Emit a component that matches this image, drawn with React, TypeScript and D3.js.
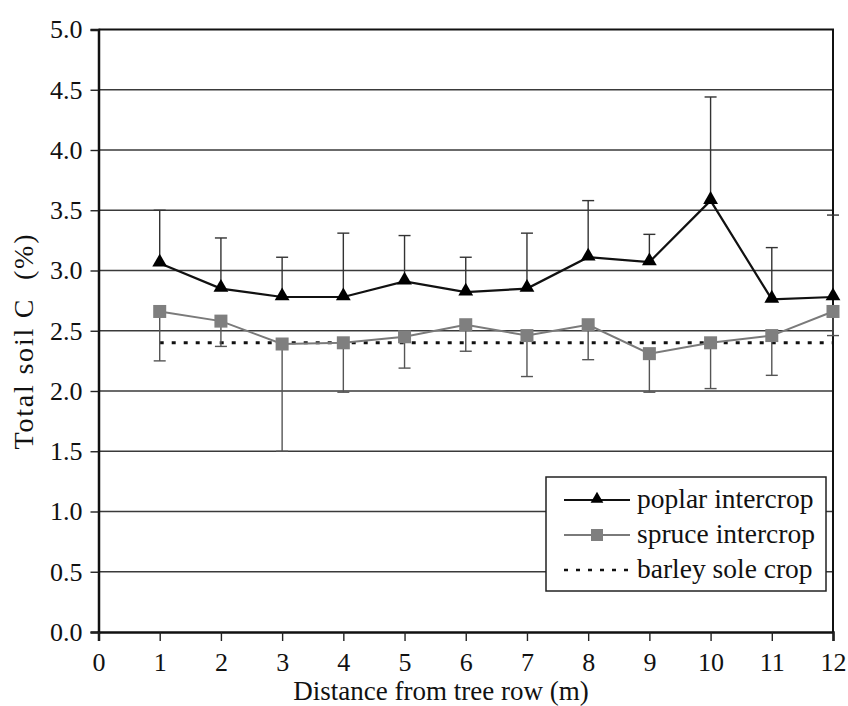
import React, { useEffect, useRef } from 'react';
import * as d3 from 'd3';

// Distance from tree row (m)
const distances = [1, 2, 3, 4, 5, 6, 7, 8, 9, 10, 11, 12];

// poplar intercrop: mean and upper error bar end
const poplarMean = [3.06, 2.85, 2.78, 2.78, 2.91, 2.82, 2.85, 3.11, 3.07, 3.58, 2.76, 2.78];
const poplarUpper = [3.5, 3.27, 3.11, 3.31, 3.29, 3.11, 3.31, 3.58, 3.3, 4.44, 3.19, 3.46];

// spruce intercrop: mean and lower error bar end
const spruceMean = [2.66, 2.58, 2.39, 2.4, 2.45, 2.55, 2.46, 2.55, 2.31, 2.4, 2.46, 2.66];
const spruceLower = [2.25, 2.37, 1.5, 1.99, 2.19, 2.33, 2.12, 2.26, 1.99, 2.02, 2.13, 2.46];

// barley sole crop (constant reference)
const barleyValue = 2.4;

const yTicks = [0, 0.5, 1, 1.5, 2, 2.5, 3, 3.5, 4, 4.5, 5];
const xTicks = [0, 1, 2, 3, 4, 5, 6, 7, 8, 9, 10, 11, 12];

const legendItems = ['poplar intercrop', 'spruce intercrop', 'barley sole crop'];

const App = () => {
  const svgRef = useRef(null);

  useEffect(() => {
    const width = 848;
    const height = 706;
    const margin = { top: 29.5, right: 15, bottom: 74, left: 98.5 };
    const font = '"Liberation Serif", "Times New Roman", serif';

    const svg = d3.select(svgRef.current);
    svg.selectAll('*').remove();
    svg.attr('viewBox', [0, 0, width, height]);

    svg.append('rect').attr('width', width).attr('height', height).attr('fill', 'white');

    const x = d3.scaleLinear().domain([0, 12]).range([margin.left, width - margin.right]);
    const y = d3.scaleLinear().domain([0, 5]).range([height - margin.bottom, margin.top]);

    // horizontal grid
    svg.append('g')
      .selectAll('line')
      .data(yTicks.filter(d => d > 0 && d < 5))
      .join('line')
      .attr('x1', margin.left)
      .attr('x2', width - margin.right)
      .attr('y1', d => y(d))
      .attr('y2', d => y(d))
      .attr('stroke', '#3a3a3a')
      .attr('stroke-width', 1.4);

    // frame (top + right)
    svg.append('path')
      .attr('d', `M${margin.left},${y(5)}H${x(12)}V${y(0)}`)
      .attr('fill', 'none')
      .attr('stroke', '#111')
      .attr('stroke-width', 2);

    // y axis
    const yAxis = svg.append('g')
      .attr('transform', `translate(${margin.left},0)`)
      .call(d3.axisLeft(y).tickValues(yTicks).tickFormat(d3.format('.1f')).tickSize(8).tickPadding(8));
    yAxis.select('.domain').attr('stroke', '#111').attr('stroke-width', 2.5);
    yAxis.selectAll('.tick line').attr('stroke', '#222').attr('stroke-width', 1.4);
    yAxis.selectAll('.tick text')
      .attr('font-family', font)
      .attr('font-size', 26)
      .attr('fill', '#111');

    // x axis
    const xAxis = svg.append('g')
      .attr('transform', `translate(0,${y(0)})`)
      .call(d3.axisBottom(x).tickValues(xTicks).tickFormat(d3.format('d')).tickSize(9).tickPadding(12));
    xAxis.select('.domain').attr('stroke', '#111').attr('stroke-width', 2.5);
    xAxis.selectAll('.tick line').attr('stroke', '#222').attr('stroke-width', 1.4);
    xAxis.selectAll('.tick text')
      .attr('font-family', font)
      .attr('font-size', 26)
      .attr('fill', '#111');

    // axis titles
    svg.append('text')
      .attr('x', 441)
      .attr('y', 700)
      .attr('text-anchor', 'middle')
      .attr('font-family', font)
      .attr('font-size', 27)
      .attr('fill', '#111')
      .text('Distance from tree row (m)');

    svg.append('text')
      .attr('transform', 'rotate(-90)')
      .attr('x', -342)
      .attr('y', 33)
      .attr('text-anchor', 'middle')
      .attr('font-family', font)
      .attr('font-size', 28)
      .attr('fill', '#111')
      .attr('textLength', 215)
      .attr('lengthAdjust', 'spacing')
      .attr('xml:space', 'preserve')
      .text('Total soil C  (%)');

    const poplar = distances.map((d, i) => ({ d, v: poplarMean[i], e: poplarUpper[i] }));
    const spruce = distances.map((d, i) => ({ d, v: spruceMean[i], e: spruceLower[i] }));

    // barley dotted line
    svg.append('line')
      .attr('x1', x(distances[0]))
      .attr('x2', x(distances[distances.length - 1]))
      .attr('y1', y(barleyValue))
      .attr('y2', y(barleyValue))
      .attr('stroke', '#111')
      .attr('stroke-width', 3)
      .attr('stroke-dasharray', '4 8');

    const drawErrors = (data, color) => {
      const g = svg.append('g').attr('stroke', color).attr('stroke-width', 1.4);
      g.selectAll('line.bar')
        .data(data)
        .join('line')
        .attr('class', 'bar')
        .attr('x1', d => x(d.d))
        .attr('x2', d => x(d.d))
        .attr('y1', d => y(d.v))
        .attr('y2', d => y(d.e));
      g.selectAll('line.cap')
        .data(data)
        .join('line')
        .attr('class', 'cap')
        .attr('x1', d => x(d.d) - 6)
        .attr('x2', d => x(d.d) + 6)
        .attr('y1', d => y(d.e))
        .attr('y2', d => y(d.e));
    };

    drawErrors(poplar, '#333');
    drawErrors(spruce, '#555');

    const line = d3.line().x(d => x(d.d)).y(d => y(d.v));

    // spruce line + squares
    svg.append('path')
      .datum(spruce)
      .attr('fill', 'none')
      .attr('stroke', '#7a7a7a')
      .attr('stroke-width', 2)
      .attr('d', line);

    svg.append('g')
      .selectAll('rect')
      .data(spruce)
      .join('rect')
      .attr('x', d => x(d.d) - 6.5)
      .attr('y', d => y(d.v) - 6.5)
      .attr('width', 13)
      .attr('height', 13)
      .attr('fill', '#7f7f7f');

    // poplar line + triangles
    svg.append('path')
      .datum(poplar)
      .attr('fill', 'none')
      .attr('stroke', '#111')
      .attr('stroke-width', 2.2)
      .attr('d', line);

    const tri = d3.symbol().type(d3.symbolTriangle).size(95);
    svg.append('g')
      .selectAll('path')
      .data(poplar)
      .join('path')
      .attr('transform', d => `translate(${x(d.d)},${y(d.v) - 1})`)
      .attr('d', tri)
      .attr('fill', '#000');

    // legend
    const lg = svg.append('g');
    lg.append('rect')
      .attr('x', 546)
      .attr('y', 477)
      .attr('width', 280)
      .attr('height', 114)
      .attr('fill', 'white')
      .attr('stroke', '#222')
      .attr('stroke-width', 1.5);

    const rowY = [500, 535, 570];
    legendItems.forEach((name, i) => {
      const yy = rowY[i];
      const ln = lg.append('line')
        .attr('x1', 564)
        .attr('x2', 630)
        .attr('y1', yy)
        .attr('y2', yy);
      if (i === 0) {
        ln.attr('stroke', '#111').attr('stroke-width', 2.2);
        lg.append('path')
          .attr('transform', `translate(597,${yy - 1})`)
          .attr('d', d3.symbol().type(d3.symbolTriangle).size(70))
          .attr('fill', '#000');
      } else if (i === 1) {
        ln.attr('stroke', '#7a7a7a').attr('stroke-width', 2);
        lg.append('rect')
          .attr('x', 591)
          .attr('y', yy - 6)
          .attr('width', 12)
          .attr('height', 12)
          .attr('fill', '#7f7f7f');
      } else {
        ln.attr('stroke', '#111').attr('stroke-width', 2.5).attr('stroke-dasharray', '4 8');
      }
      lg.append('text')
        .attr('x', 637)
        .attr('y', yy + 8)
        .attr('font-family', font)
        .attr('font-size', 27.5)
        .attr('fill', '#111')
        .text(name);
    });
  });

  return (
    <svg ref={svgRef} width={848} height={706} style={{ position: 'absolute', left: 0, top: 0 }}></svg>
  );
};

export default App;
